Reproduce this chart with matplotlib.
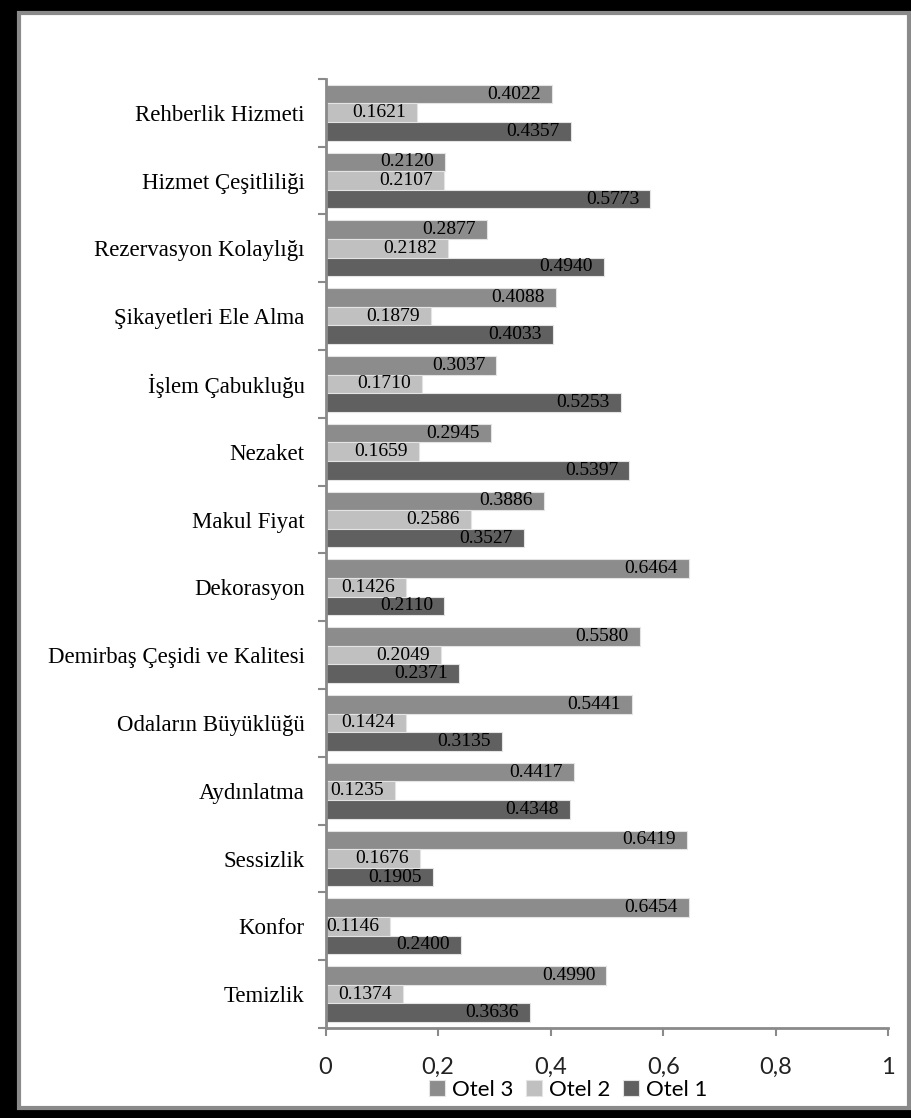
import numpy as np
import matplotlib
matplotlib.use("Agg")
import matplotlib.pyplot as plt
from matplotlib.patches import Rectangle
from matplotlib.ticker import FixedLocator

# criteria, listed top to bottom as shown on the chart
categories = [
    "Rehberlik Hizmeti", "Hizmet Çeşitliliği", "Rezervasyon Kolaylığı",
    "Şikayetleri Ele Alma", "İşlem Çabukluğu", "Nezaket", "Makul Fiyat",
    "Dekorasyon", "Demirbaş Çeşidi ve Kalitesi", "Odaların Büyüklüğü",
    "Aydınlatma", "Sessizlik", "Konfor", "Temizlik",
]
otel3 = [0.4022, 0.2120, 0.2877, 0.4088, 0.3037, 0.2945, 0.3886,
         0.6464, 0.5580, 0.5441, 0.4417, 0.6419, 0.6454, 0.4990]
otel2 = [0.1621, 0.2107, 0.2182, 0.1879, 0.1710, 0.1659, 0.2586,
         0.1426, 0.2049, 0.1424, 0.1235, 0.1676, 0.1146, 0.1374]
otel1 = [0.4357, 0.5773, 0.4940, 0.4033, 0.5253, 0.5397, 0.3527,
         0.2110, 0.2371, 0.3135, 0.4348, 0.1905, 0.2400, 0.3636]
series_names = ["Otel 3", "Otel 2", "Otel 1"]
x_ticks = [0, 0.2, 0.4, 0.6, 0.8, 1]
x_tick_labels = ["0", "0,2", "0,4", "0,6", "0,8", "1"]

colors = ["#8c8c8c", "#c0c0c0", "#606060"]

fig = plt.figure(figsize=(9.12, 11.18), dpi=100)

# black outer frame with a white panel inside
fig.patches.append(Rectangle((0, 0), 1, 1, transform=fig.transFigure,
                             facecolor="black", edgecolor="none", zorder=-10))
fig.patches.append(Rectangle((19 / 912, 10 / 1118), 890 / 912, 1095 / 1118,
                             transform=fig.transFigure, facecolor="white",
                             edgecolor="#8a8a8a", linewidth=3, zorder=-9))

ax = fig.add_axes([0.357, 0.0805, 0.617, 0.849])
ax.patch.set_alpha(0)

y = np.arange(len(categories))
h = 0.275
offsets = [-h, 0, h]
for vals, off, col, name in zip([otel3, otel2, otel1], offsets, colors, series_names):
    bars = ax.barh(y + off, vals, height=h, color=col, edgecolor="#e4e4e4",
                   linewidth=0.8, label=name)
    for b, v in zip(bars, vals):
        ax.annotate(f"{v:.4f}", (v, b.get_y() + b.get_height() / 2),
                    xytext=(-8, 0), textcoords="offset points",
                    ha="right", va="center", fontsize=14,
                    family="Liberation Serif", color="black")

ax.set_xlim(0, 1)
ax.set_ylim(len(categories) - 0.5, -0.5)

ax.set_xticks(x_ticks)
ax.set_xticklabels(x_tick_labels, fontsize=17, family="Lato", color="#222222")
ax.tick_params(axis="x", direction="out", length=6, width=1.5, color="#8a8a8a", pad=15)

ax.set_yticks(y)
ax.set_yticklabels(categories, fontsize=16.5, family="Liberation Serif")
ax.tick_params(axis="y", which="major", length=0, pad=15)
ax.yaxis.set_minor_locator(FixedLocator(np.arange(len(categories) + 1) - 0.5))
ax.tick_params(axis="y", which="minor", direction="out", length=6, width=1.5, color="#8a8a8a")

for side in ["top", "right"]:
    ax.spines[side].set_visible(False)
for side in ["left", "bottom"]:
    ax.spines[side].set_color("#8a8a8a")
    ax.spines[side].set_linewidth(2)

handles, labels = ax.get_legend_handles_labels()
fig.legend(handles, labels, loc="center", bbox_to_anchor=(0.623, 0.025),
           ncol=3, frameon=False, handlelength=0.7, handleheight=0.7,
           handletextpad=0.3, columnspacing=0.6,
           prop={"family": "Lato", "size": 16})

fig.savefig("out.png", dpi=100)
